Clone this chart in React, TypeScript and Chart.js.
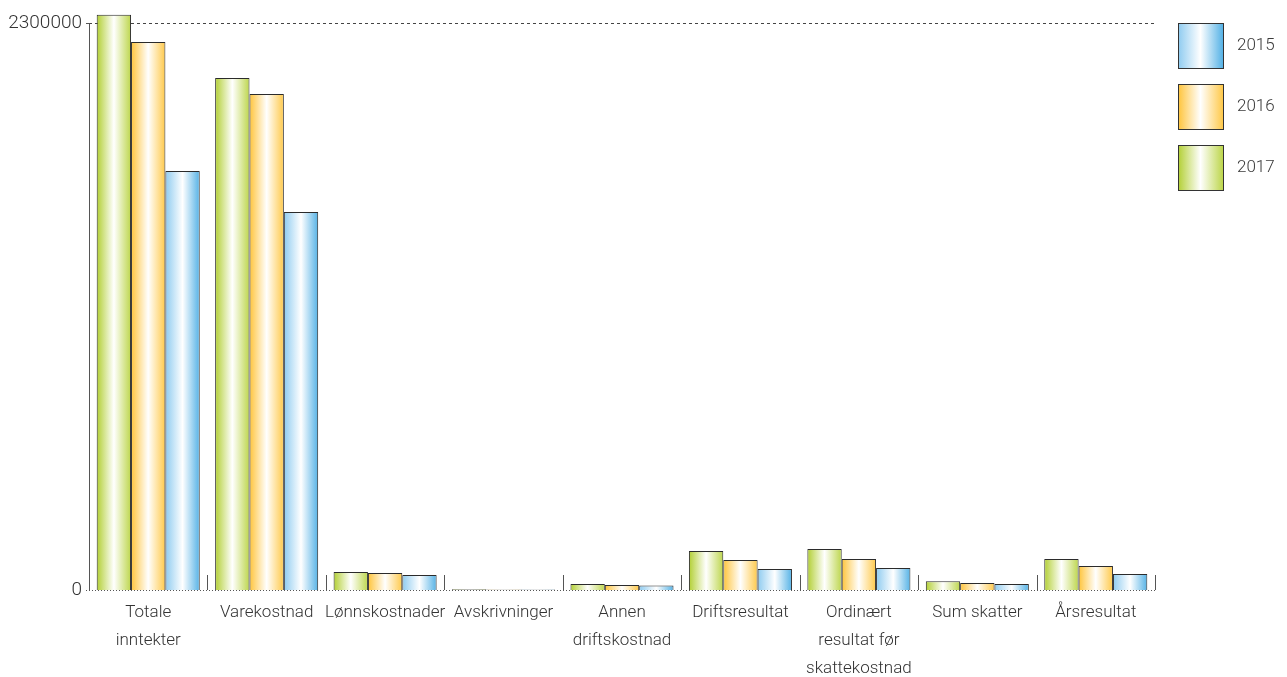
import React, { useEffect, useRef } from 'react';
import { Chart, registerables } from 'chart.js';
Chart.register(...registerables);

const categories: (string | string[])[] = [
  ['Totale', 'inntekter'],
  'Varekostnad',
  'Lønnskostnader',
  'Avskrivninger',
  ['Annen', 'driftskostnad'],
  'Driftsresultat',
  ['Ordinært', 'resultat før', 'skattekostnad'],
  'Sum skatter',
  'Årsresultat',
];
const values2017 = [2333000, 2077000, 73000, 3000, 24000, 158000, 166000, 36000, 126000];
const values2016 = [2223000, 2012000, 69000, 2500, 20000, 122000, 126000, 28000, 97000];
const values2015 = [1700000, 1533000, 61000, 2500, 18000, 85000, 89000, 24000, 65000];
const seriesLabels = ['2017', '2016', '2015'];
const yTicks = [0, 2300000];
const yMax = 2352700;

// [left, right] colours for gradient
const seriesColors: [string, string][] = [
  ['#b2cf33', '#bdd64c'],
  ['#ffc43a', '#ffc94a'],
  ['#8ecbf0', '#55b2e6'],
];

const CAT_PCT = 0.87;
const FONT = 'Roboto, "Liberation Sans", Arial, sans-serif';

function makeGrad(ctx: CanvasRenderingContext2D, x0: number, x1: number, c: [string, string]) {
  const g = ctx.createLinearGradient(x0, 0, x1, 0);
  g.addColorStop(0, c[0]);
  g.addColorStop(0.5, '#ffffff');
  g.addColorStop(1, c[1]);
  return g;
}

const decorPlugin = {
  id: 'decor',
  beforeDatasetsDraw(chart: any) {
    const { ctx, chartArea: a, scales } = chart;
    const y = scales.y;
    const yTop = y.getPixelForValue(yTicks[1]);
    const y0 = y.getPixelForValue(0);
    ctx.save();
    ctx.strokeStyle = '#444';
    ctx.lineWidth = 1;
    ctx.setLineDash([3, 3]);
    ctx.beginPath();
    ctx.moveTo(a.left, Math.round(yTop) + 0.5);
    ctx.lineTo(a.right, Math.round(yTop) + 0.5);
    ctx.stroke();
    ctx.setLineDash([1, 2]);
    ctx.strokeStyle = '#555';
    ctx.beginPath();
    ctx.moveTo(a.left - 3, Math.round(y0) + 0.5);
    ctx.lineTo(a.right, Math.round(y0) + 0.5);
    ctx.stroke();
    ctx.setLineDash([]);
    ctx.strokeStyle = '#555';
    ctx.beginPath();
    ctx.moveTo(a.left - 3, Math.round(yTop) + 0.5);
    ctx.lineTo(a.left + 0.5, Math.round(yTop) + 0.5);
    ctx.lineTo(a.left + 0.5, Math.round(y0) + 0.5);
    ctx.stroke();
    const n = categories.length;
    const w = (a.right - a.left) / n;
    ctx.strokeStyle = '#555';
    for (let i = 1; i <= n; i++) {
      const x = Math.round(a.left + i * w) + 0.5;
      ctx.beginPath();
      ctx.moveTo(x, y0 - 15);
      ctx.lineTo(x, y0);
      ctx.stroke();
    }
    ctx.restore();
  },
  afterDraw(chart: any) {
    const { ctx } = chart;
    const legendOrder = [2, 1, 0];
    ctx.save();
    legendOrder.forEach((di, k) => {
      const bx = 1178;
      const by = 23 + k * 61;
      ctx.fillStyle = makeGrad(ctx, bx, bx + 45, seriesColors[di]);
      ctx.fillRect(bx, by, 45, 45);
      ctx.strokeStyle = '#333';
      ctx.lineWidth = 1;
      ctx.strokeRect(bx + 0.5, by + 0.5, 45, 45);
      ctx.fillStyle = '#3a3a3a';
      ctx.font = `300 17px ${FONT}`;
      ctx.textBaseline = 'middle';
      ctx.textAlign = 'left';
      ctx.fillText(seriesLabels[di], 1237, by + 23);
    });
    ctx.restore();
  },
};

export default function App() {
  const ref = useRef<HTMLCanvasElement>(null);
  useEffect(() => {
    if (!ref.current) return;
    const series = [values2017, values2016, values2015];
    const chart = new Chart(ref.current, {
      type: 'bar',
      data: {
        labels: categories as any,
        datasets: series.map((vals, di) => ({
          label: seriesLabels[di],
          data: vals,
          borderColor: '#2b2b2b',
          borderWidth: 1,
          categoryPercentage: CAT_PCT,
          barPercentage: 1,
          backgroundColor: (c: any) => {
            const ch = c.chart;
            const xs = ch.scales?.x;
            const area = ch.chartArea;
            if (!xs || !area || c.dataIndex === undefined) return seriesColors[di][0];
            const catW = (area.right - area.left) / categories.length;
            const groupW = catW * CAT_PCT;
            const barW = groupW / 3;
            const left = xs.getPixelForValue(c.dataIndex) - groupW / 2 + di * barW;
            return makeGrad(ch.ctx, left, left + barW, seriesColors[di]);
          },
        })),
      },
      options: {
        animation: false,
        responsive: true,
        maintainAspectRatio: false,
        layout: { padding: { left: 0, right: 132, top: 10, bottom: 0 } },
        plugins: { legend: { display: false }, tooltip: { enabled: false } },
        scales: {
          x: {
            grid: { display: false, drawTicks: false },
            border: { display: false },
            ticks: {
              color: '#333',
              font: { family: FONT, size: 17, weight: '300', lineHeight: 1.65 },
              padding: 9,
              maxRotation: 0,
              autoSkip: false,
            },
            afterFit: (s: any) => { s.height = 87; s.paddingLeft = 0; s.paddingRight = 0; },
          },
          y: {
            min: 0,
            max: yMax,
            grid: { display: false, drawTicks: false },
            border: { display: false },
            ticks: {
              color: '#333',
              font: { family: FONT, size: 19, weight: '300' },
              padding: 7,
              callback: (v: any) => String(v),
            },
            afterBuildTicks: (s: any) => { s.ticks = yTicks.map((v) => ({ value: v })); },
            afterFit: (s: any) => { s.width = 89; s.paddingTop = 0; s.paddingBottom = 0; },
          },
        },
      },
      plugins: [decorPlugin],
    });
    return () => chart.destroy();
  }, []);
  return (
    <div style={{ position: 'fixed', left: 0, top: 0, width: 1287, height: 677, background: '#fff' }}>
      <canvas ref={ref} />
    </div>
  );
}
